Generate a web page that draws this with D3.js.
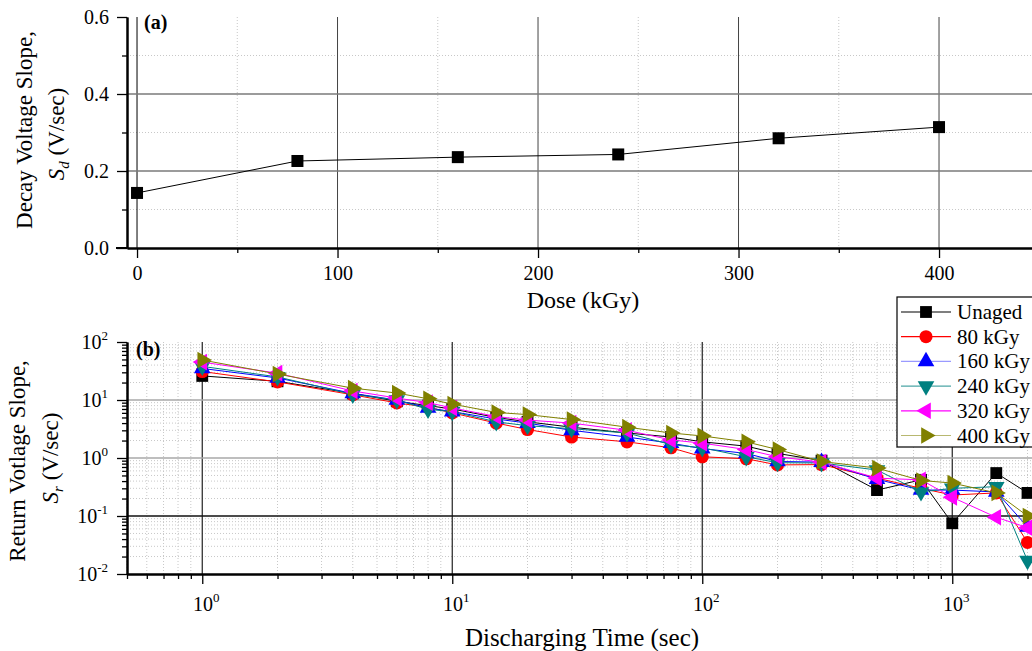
<!DOCTYPE html>
<html>
<head>
<meta charset="utf-8">
<script src="https://cdn.jsdelivr.net/npm/d3@7"></script>
<style>
  body { margin: 0; background: #fff; }
  svg { display: block; }
</style>
</head>
<body>
<script>
// ---- data ----
var doseVals = [0, 80, 160, 240, 320, 400];
var decaySlope = [0.143, 0.226, 0.236, 0.243, 0.285, 0.314];

var times = [1, 2, 4, 6, 8, 10, 15, 20, 30, 50, 75, 100, 150, 200, 300, 500, 750, 1000, 1500, 2000];
var seriesNames = ["Unaged", "80 kGy", "160 kGy", "240 kGy", "320 kGy", "400 kGy"];
var unaged  = [26, 21, 13, 9.5, 8, 7, 5, 4.2, 3.4, 2.7, 2.3, 1.9, 1.6, 1.2, 0.9, 0.28, 0.42, 0.075, 0.55, 0.25];
var kgy80   = [31, 20.5, 12.3, 8.9, 7.5, 6.0, 4.0, 3.1, 2.3, 1.9, 1.5, 1.05, 0.97, 0.76, 0.77, 0.45, 0.3, 0.23, 0.25, 0.035];
var kgy160  = [35, 24, 13, 10, 7.3, 6.3, 4.7, 4.0, 3.0, 2.3, 1.8, 1.45, 1.2, 0.87, 0.85, 0.43, 0.28, 0.28, 0.26, 0.065];
var kgy240  = [38, 25, 12.5, 10, 6.9, 6.3, 4.2, 3.6, 3.2, 2.7, 1.7, 1.5, 1.05, 0.83, 0.82, 0.62, 0.26, 0.3, 0.32, 0.017];
var kgy320  = [45, 29, 14.3, 10.8, 9, 7.3, 5.2, 4.5, 4.0, 3.0, 2.05, 1.8, 1.4, 1.05, 0.85, 0.45, 0.42, 0.21, 0.095, 0.063];
var kgy400  = [49, 28, 16, 13.2, 10.5, 8.5, 6.1, 5.6, 4.6, 3.4, 2.7, 2.4, 1.9, 1.4, 0.87, 0.67, 0.41, 0.37, 0.25, 0.10];

var doseTicks = [0, 100, 200, 300, 400];
var doseMinor = [50, 150, 250, 350, 450];
var decayTicks = [0, 0.2, 0.4, 0.6];
var decayMinor = [0.1, 0.3, 0.5];
var timeTicks = [1, 10, 100, 1000];
var slopeTicks = [0.01, 0.1, 1, 10, 100];

var allSeries = [unaged, kgy80, kgy160, kgy240, kgy320, kgy400];
var colors = ["#000000", "#ff0000", "#0000ff", "#008080", "#ff00ff", "#808000"];
var legendLine = ["#000000", "#ff0000", "#9a9aff", "#4da6a6", "#ff00ff", "#b8b870"];

var FONT = "'Liberation Serif', 'Times New Roman', serif";

function markerPath(i) {
    var types = [d3.symbolSquare, d3.symbolCircle, d3.symbolTriangle, d3.symbolTriangle, d3.symbolTriangle, d3.symbolTriangle];
    var sizes = [140, 135, 120, 120, 120, 120];
    return d3.symbol().type(types[i]).size(sizes[i])();
}
var rotations = [0, 0, 0, 180, -90, 90];

var svg = d3.select("body").append("svg")
    .attr("width", 1032)
    .attr("height", 651)
    .style("font-family", FONT);

// minor log values for a log domain
function logMinors(lo, hi) {
    var out = [];
    for (var e = Math.floor(Math.log10(lo)); e <= Math.ceil(Math.log10(hi)); e++) {
        for (var k = 2; k <= 9; k++) {
            var v = k * Math.pow(10, e);
            if (v >= lo && v <= hi) out.push(v);
        }
    }
    return out;
}

function styleAxis(g, w) {
    g.attr("font-family", FONT);
    g.select(".domain").attr("stroke", "#000").attr("stroke-width", w);
    g.selectAll(".tick line").attr("stroke", "#000").attr("stroke-width", 1.3);
    g.selectAll(".tick text").attr("fill", "#000").attr("font-size", 20);
}

// ================= panel (a) =================
var xA = d3.scaleLinear().domain([-5, 450]).range([127, 127 + 455 * 2.005]);
var yA = d3.scaleLinear().domain([0, 0.6]).range([248, 17]);

var gA = svg.append("g");

// minor dotted grid
gA.selectAll("line.vminor").data(doseMinor).enter().append("line")
    .attr("x1", d => xA(d)).attr("x2", d => xA(d))
    .attr("y1", yA(0.6)).attr("y2", yA(0))
    .attr("stroke", "#c8c8c8").attr("stroke-dasharray", "1,2");
gA.selectAll("line.hminor").data(decayMinor).enter().append("line")
    .attr("x1", xA(-5)).attr("x2", 1032)
    .attr("y1", d => yA(d)).attr("y2", d => yA(d))
    .attr("stroke", "#c8c8c8").attr("stroke-dasharray", "1,2");
// major grid
gA.selectAll("line.vmajor").data(doseTicks).enter().append("line")
    .attr("x1", d => xA(d)).attr("x2", d => xA(d))
    .attr("y1", yA(0.6)).attr("y2", yA(0))
    .attr("stroke", d => d == 0 ? "#000" : "#444").attr("stroke-width", 1);
gA.selectAll("line.hmajor").data([0.2, 0.4]).enter().append("line")
    .attr("x1", xA(-5)).attr("x2", 1032)
    .attr("y1", d => yA(d)).attr("y2", d => yA(d))
    .attr("stroke", "#7a7a7a").attr("stroke-width", 1.3);

// axes
var axA_left = gA.append("g").attr("transform", "translate(" + xA(-5) + ",0)")
    .call(d3.axisLeft(yA).tickValues(decayTicks).tickSize(10).tickSizeOuter(0).tickPadding(8).tickFormat(d3.format(".1f")));
styleAxis(axA_left, 2);
var axA_leftMinor = gA.append("g").attr("transform", "translate(" + xA(-5) + ",0)")
    .call(d3.axisLeft(yA).tickValues(decayMinor).tickSize(5).tickSizeOuter(0).tickFormat(""));
styleAxis(axA_leftMinor, 2);

var axA_bottom = gA.append("g").attr("transform", "translate(0," + yA(0) + ")")
    .call(d3.axisBottom(xA).tickValues(doseTicks).tickSize(10).tickSizeOuter(0).tickPadding(8).tickFormat(d3.format("d")));
styleAxis(axA_bottom, 2);
var axA_bottomMinor = gA.append("g").attr("transform", "translate(0," + yA(0) + ")")
    .call(d3.axisBottom(xA).tickValues(doseMinor).tickSize(5).tickSizeOuter(0).tickFormat(""));
styleAxis(axA_bottomMinor, 2);
gA.append("line").attr("x1", 116).attr("x2", xA(-5)).attr("y1", yA(0)).attr("y2", yA(0))
    .attr("stroke", "#000").attr("stroke-width", 2);

// data
var ptsA = doseVals.map((d, i) => [d, decaySlope[i]]);
gA.append("path").datum(ptsA)
    .attr("fill", "none").attr("stroke", "#000").attr("stroke-width", 1)
    .attr("d", d3.line().x(d => xA(d[0])).y(d => yA(d[1])));
gA.selectAll("rect.pt").data(ptsA).enter().append("rect")
    .attr("x", d => xA(d[0]) - 6).attr("y", d => yA(d[1]) - 6)
    .attr("width", 12).attr("height", 12).attr("fill", "#000");

gA.append("text").attr("x", 144).attr("y", 29).attr("font-size", 20).attr("font-weight", "bold").text("(a)");

gA.append("text").attr("x", 583).attr("y", 308).attr("text-anchor", "middle").attr("font-size", 24).text("Dose (kGy)");

gA.append("text").attr("transform", "translate(32,130) rotate(-90)")
    .attr("text-anchor", "middle").attr("font-size", 23).text("Decay Voltage Slope,");
var ytA2 = gA.append("text").attr("transform", "translate(64,134) rotate(-90)")
    .attr("text-anchor", "middle").attr("font-size", 23);
ytA2.append("tspan").attr("font-style", "italic").text("S");
ytA2.append("tspan").attr("font-style", "italic").attr("font-size", 15).attr("dy", 5).text("d");
ytA2.append("tspan").attr("dy", -5).text(" (V/sec)");

// ================= panel (b) =================
var xB = d3.scaleLog().domain([0.5, 2100]).range([127, 127 + Math.log10(4200) * 250]);
var yB = d3.scaleLog().domain([0.01, 100]).range([574, 342]);

var gB = svg.append("g");
var xMinorB = logMinors(0.5, 2100);
var yMinorB = logMinors(0.01, 100);

gB.selectAll("line.vminor").data(xMinorB).enter().append("line")
    .attr("x1", d => xB(d)).attr("x2", d => xB(d))
    .attr("y1", yB(100)).attr("y2", yB(0.01))
    .attr("stroke", "#c8c8c8").attr("stroke-dasharray", "1,2");
gB.selectAll("line.hminor").data(yMinorB).enter().append("line")
    .attr("x1", xB(0.5)).attr("x2", 1032)
    .attr("y1", d => yB(d)).attr("y2", d => yB(d))
    .attr("stroke", "#c8c8c8").attr("stroke-dasharray", "1,2");
gB.selectAll("line.vmajor").data(timeTicks).enter().append("line")
    .attr("x1", d => xB(d)).attr("x2", d => xB(d))
    .attr("y1", yB(100)).attr("y2", yB(0.01))
    .attr("stroke", "#222").attr("stroke-width", 1.2);
gB.selectAll("line.hmajor").data([10, 1, 0.1]).enter().append("line")
    .attr("x1", xB(0.5)).attr("x2", 1032)
    .attr("y1", d => yB(d)).attr("y2", d => yB(d))
    .attr("stroke", d => d == 0.1 ? "#111" : "#a8a8a8").attr("stroke-width", 1.3);

var axB_left = gB.append("g").attr("transform", "translate(" + xB(0.5) + ",0)")
    .call(d3.axisLeft(yB).tickValues(slopeTicks).tickSize(10).tickSizeOuter(0).tickFormat(""));
styleAxis(axB_left, 2);
var axB_leftMinor = gB.append("g").attr("transform", "translate(" + xB(0.5) + ",0)")
    .call(d3.axisLeft(yB).tickValues(yMinorB).tickSize(5).tickSizeOuter(0).tickFormat(""));
styleAxis(axB_leftMinor, 2);
var axB_bottom = gB.append("g").attr("transform", "translate(0," + yB(0.01) + ")")
    .call(d3.axisBottom(xB).tickValues(timeTicks).tickSize(10).tickSizeOuter(0).tickFormat(""));
styleAxis(axB_bottom, 2);
var axB_bottomMinor = gB.append("g").attr("transform", "translate(0," + yB(0.01) + ")")
    .call(d3.axisBottom(xB).tickValues(xMinorB).tickSize(5).tickSizeOuter(0).tickFormat(""));
styleAxis(axB_bottomMinor, 2);

// power-of-ten labels
gB.selectAll("text.ylab").data(slopeTicks).enter().append("text")
    .attr("x", 108).attr("y", d => yB(d) + 7)
    .attr("text-anchor", "end").attr("font-size", 20)
    .each(function(d) {
        var t = d3.select(this);
        t.append("tspan").text("10");
        t.append("tspan").attr("font-size", 13).attr("dy", -9).text(Math.round(Math.log10(d)));
    });
gB.selectAll("text.xlab").data(timeTicks).enter().append("text")
    .attr("x", d => xB(d) + 4).attr("y", 611)
    .attr("text-anchor", "middle").attr("font-size", 20)
    .each(function(d) {
        var t = d3.select(this);
        t.append("tspan").text("10");
        t.append("tspan").attr("font-size", 13).attr("dy", -9).text(Math.round(Math.log10(d)));
    });

// series lines then markers, drawn in legend order
var lineB = d3.line().x(d => xB(d[0])).y(d => yB(d[1]));
allSeries.forEach(function(vals, i) {
    var pts = times.map((t, j) => [t, vals[j]]);
    var g = gB.append("g");
    g.append("path").datum(pts)
        .attr("fill", "none").attr("stroke", colors[i]).attr("stroke-width", 1)
        .attr("d", lineB);
    g.selectAll("path.m").data(pts).enter().append("path")
        .attr("d", markerPath(i))
        .attr("transform", d => "translate(" + xB(d[0]) + "," + yB(d[1]) + ") rotate(" + rotations[i] + ")")
        .attr("fill", colors[i]);
});

gB.append("text").attr("x", 136).attr("y", 356).attr("font-size", 20).attr("font-weight", "bold").text("(b)");

gB.append("text").attr("x", 582).attr("y", 646).attr("text-anchor", "middle").attr("font-size", 25).text("Discharging Time (sec)");

gB.append("text").attr("transform", "translate(25,461) rotate(-90)")
    .attr("text-anchor", "middle").attr("font-size", 23).text("Return Votlage Slope,");
var ytB2 = gB.append("text").attr("transform", "translate(58,458) rotate(-90)")
    .attr("text-anchor", "middle").attr("font-size", 23);
ytB2.append("tspan").attr("font-style", "italic").text("S");
ytB2.append("tspan").attr("font-style", "italic").attr("font-size", 15).attr("dy", 5).text("r");
ytB2.append("tspan").attr("dy", -5).text(" (V/sec)");

// legend
var leg = svg.append("g").attr("transform", "translate(897,297)");
leg.append("rect").attr("x", 0).attr("y", 0).attr("width", 200).attr("height", 150)
    .attr("fill", "#fff").attr("stroke", "#000").attr("stroke-width", 1.2);
seriesNames.forEach(function(name, i) {
    var yy = 15 + i * 24.7;
    leg.append("line").attr("x1", 4).attr("x2", 54).attr("y1", yy).attr("y2", yy)
        .attr("stroke", legendLine[i]).attr("stroke-width", 1.2);
    leg.append("path").attr("d", markerPath(i))
        .attr("transform", "translate(29," + yy + ") rotate(" + rotations[i] + ")")
        .attr("fill", colors[i]);
    leg.append("text").attr("x", 60).attr("y", yy + 7).attr("font-size", 21).text(name);
});
</script>
</body>
</html>
